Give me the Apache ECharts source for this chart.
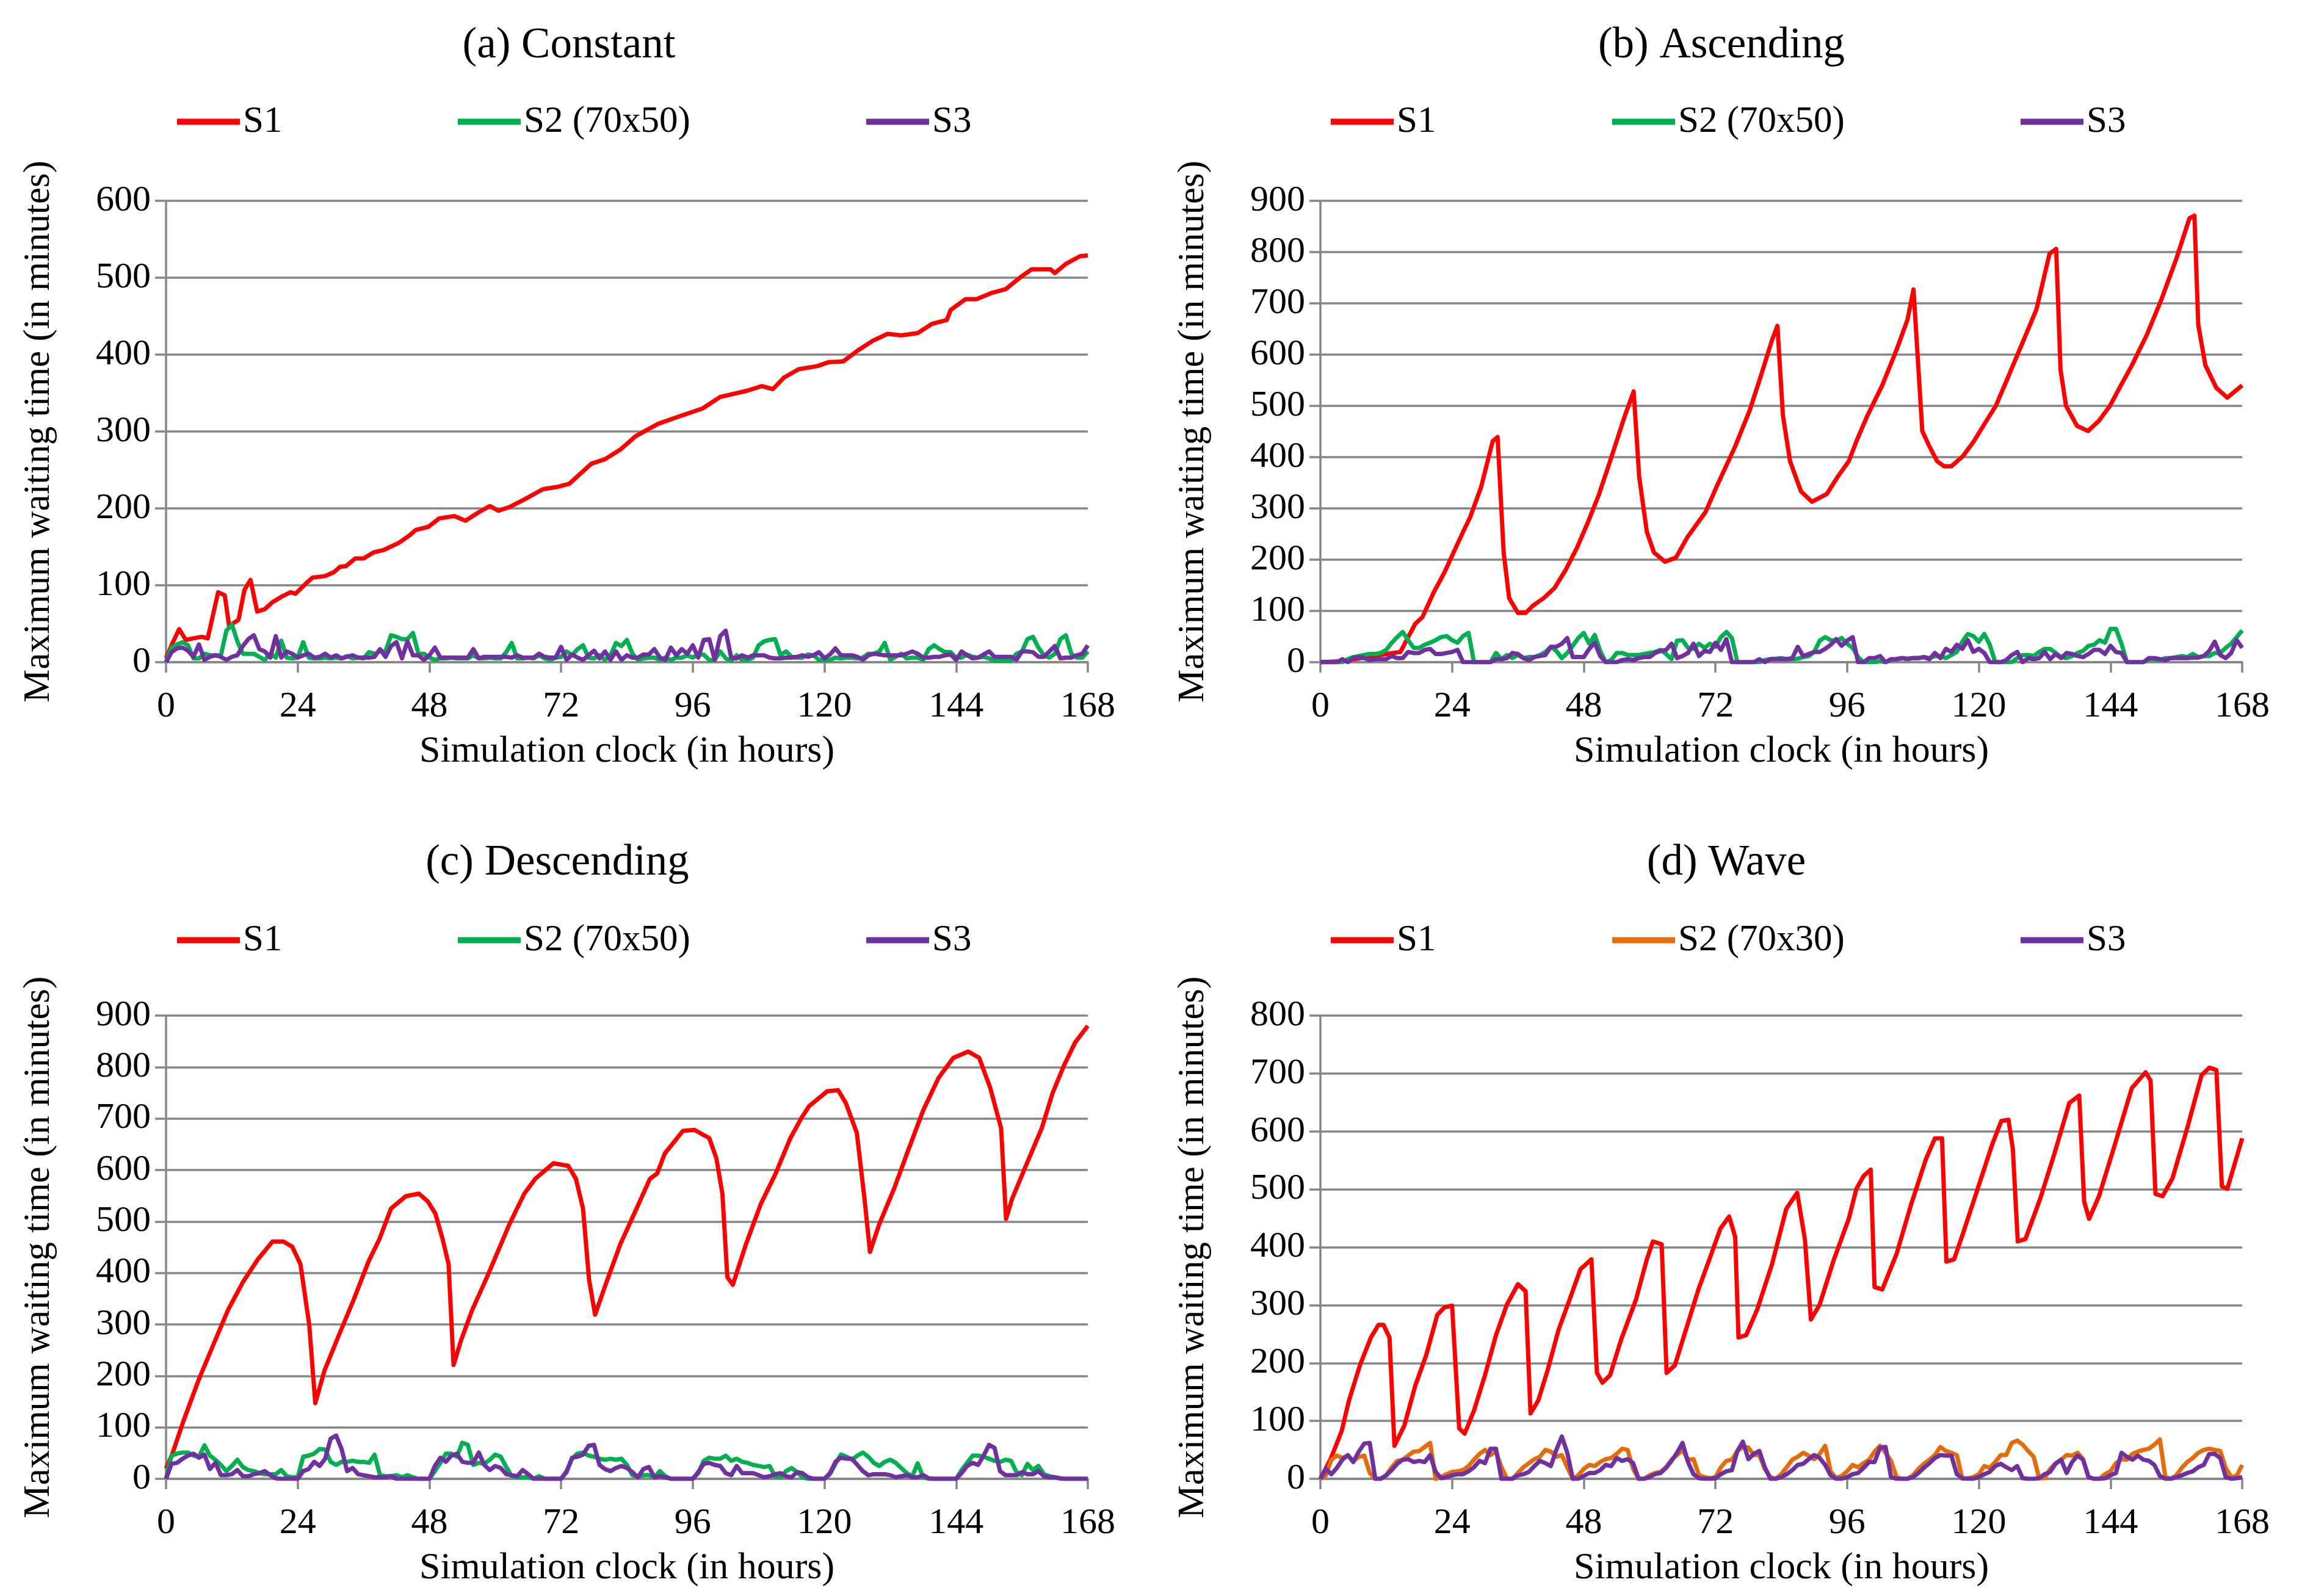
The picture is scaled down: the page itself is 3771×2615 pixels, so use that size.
<!DOCTYPE html>
<html>
<head>
<meta charset="utf-8">
<title>Maximum waiting time</title>
<script src="https://cdn.jsdelivr.net/npm/echarts@6/dist/echarts.min.js"></script>
<style>
  html, body { margin: 0; padding: 0; background: #fff; }
  #chart { width: 3771px; height: 2615px; }
</style>
</head>
<body>
<div id="chart"></div>
<script>
// ---- data ----
var xTicks = [0, 24, 48, 72, 96, 120, 144, 168];

// S1 is given as [hour, minutes] pairs (its turning points), S2/S3 hourly from 0 to 168
var constS1 = [[0,5],[1,22],[2.4,43],[3.6,29],[5,31],[6.5,33],[7.6,31],[9.5,91],[10.7,87],[11.5,47],[13.2,55],[14.3,94],[15.4,107],[16.6,66],[18,69],[19.4,78],[21,85],[22.7,91],[23.6,89],[25.6,103],[26.7,110],[29,112],[30.6,117],[31.7,124],[32.8,125],[34.5,135],[36,135],[37.9,143],[39.7,146],[42.4,155],[44.4,165],[45.5,172],[47.8,176],[49.8,187],[52.5,190],[54.6,184],[57,195],[59,203],[60.6,197],[62.7,202],[65.4,212],[68.7,225],[71.4,228],[73.5,232],[77.5,258],[80,264],[82.9,277],[85.6,294],[89.7,310],[93.7,320],[97.8,330],[101,345],[105.9,353],[108.6,359],[110.6,355],[112.6,370],[115.3,381],[118.7,385],[120.7,390],[123.4,391],[126,405],[128.8,418],[131.5,427],[134,425],[137,428],[139.6,440],[142.3,445],[143,458],[145.7,472],[147.7,472],[150.4,480],[153,485],[155.8,501],[157.8,511],[161.2,511],[162,506],[164,518],[166.6,528],[168,529]];
var constS2 = [0,19,23,26,22,5,5,11,9,9,9, 41,49,27,11,11,11,7,3,11,6, 28,6,5,6,26,6,5,5,6,5, 6,5,8,5,6,5,13,11,14,14, 35,33,30,30,38,11,11,6,3,5, 5,6,5,5,5,9,5,5,6,5, 5,13,25,5,5,6,5,9,5,3, 6,7,14,9,17,22,6,5,9,3, 9,25,21,29,11,3,5,6,6,3, 6,3,6,6,9,6,10,10,3,3, 14,5,2,9,3,3,6,22,27,29, 30,9,14,7,6,6,10,9,3,3, 3,6,5,6,6,5,6,11,11,14, 25,3,7,11,5,6,6,3,17,22, 17,13,13,6,6,10,7,6,7,5, 2,2,2,2,11,14,30,33,19,9, 6,11,30,35,11,6,6,14];
var constS3 = [0,13,18,19,15,7,23,3,7,9,7, 3,7,9,21,30,35,17,14,6,34, 6,14,11,6,9,11,6,7,11,6, 9,5,7,9,6,6,6,7,17,7, 21,26,5,27,9,9,3,9,19,6, 6,6,6,6,6,17,5,7,7,7, 7,7,6,9,6,6,6,11,7,6, 6,20,3,10,6,3,9,15,5,14, 3,14,3,9,6,6,10,10,17,6, 3,19,9,17,11,22,6,29,30,3, 34,41,6,5,9,6,9,9,9,6, 5,5,6,6,7,9,7,9,13,5, 10,18,9,9,9,7,3,9,11,10, 9,9,9,9,11,14,11,6,6,7, 7,9,10,3,14,9,5,6,10,14, 7,7,7,7,3,14,14,13,7,7, 14,21,5,6,6,9,11,22];

var ascS1 = [[0,0],[4,2],[8.6,10],[12.6,17],[14.6,20],[15.7,43],[17.3,75],[18.6,88],[20.6,135],[22.6,175],[24.7,224],[26,254],[27.3,283],[29.3,342],[31.4,431],[32.3,439],[33.4,214],[34.4,125],[36,96],[37.4,96],[38.7,110],[40.7,125],[42.7,145],[44.7,180],[46.8,224],[48.8,274],[50.8,328],[52.8,392],[55.5,481],[57.1,528],[58.1,362],[59.5,254],[60.8,214],[62.8,196],[64.8,204],[66.9,244],[70.2,293],[72.2,342],[75.6,421],[78.2,490],[80.3,559],[82.3,628],[83.3,656],[84.3,481],[85.6,392],[87.6,333],[89.6,313],[92.3,328],[94.3,362],[96.3,392],[97.7,431],[99.7,481],[102.4,540],[105,609],[107,668],[108.1,727],[109.7,451],[111,421],[112.4,392],[113.7,382],[115,382],[117.1,402],[119.1,431],[121.1,466],[123.1,500],[125.1,550],[127.8,619],[130.5,688],[132.9,797],[134.1,806],[134.9,570],[135.9,500],[137.9,461],[139.9,451],[141.9,471],[143.9,500],[145.9,540],[147.9,579],[150.6,638],[153.3,708],[156,787],[158.4,866],[159.3,871],[160,658],[161.3,579],[163.3,535],[165.3,516],[168,540]];
var ascS2 = [0,0,0,0,0,6,10,12,14,16,16, 18,24,38,49,59,43,28,28,34,38, 43,49,51,43,38,51,57,0,0,0, 0,18,6,14,8,14,8,10,10,14, 20,30,22,8,18,32,47,57,36,53, 22,0,4,18,18,14,14,14,16,18, 20,24,16,6,42,43,28,26,36,28, 36,30,49,59,47,0,0,0,0,0, 4,6,7,8,6,6,7,10,12,20, 42,49,43,42,47,36,28,10,0,0, 0,2,0,4,6,8,6,8,8,10, 8,12,12,8,14,20,40,55,51,40, 55,34,0,0,0,0,8,14,14,12, 20,26,26,18,10,8,12,18,22,32, 34,43,38,65,65,36,0,0,0,0, 6,6,4,8,8,10,12,10,16,10, 12,12,18,18,28,36,49,62];
var ascS3 = [0,0,0,0,6,0,8,10,8,4,6, 6,6,12,8,8,20,18,18,24,26, 16,16,18,20,24,0,0,0,0,0, 0,6,6,8,18,16,8,4,10,12, 14,30,30,36,47,10,10,10,26,38, 12,0,0,0,4,6,4,8,10,10, 18,22,24,36,8,12,18,36,12,22, 20,38,24,45,0,0,0,0,0,6, 0,6,6,6,6,8,30,12,16,20, 20,26,34,45,32,42,49,0,0,8, 8,12,0,6,6,8,7,8,8,10, 6,18,8,26,20,34,26,43,20,26, 18,0,0,0,4,14,20,0,8,6, 8,20,6,16,8,18,16,12,10,16, 24,24,16,32,20,18,0,0,0,0, 8,8,6,4,8,8,8,8,9,9, 12,22,40,14,8,18,43,28];

var descS1 = [[0,20],[1.1,47],[3.2,113],[5.9,191],[8.6,260],[11.3,328],[14,382],[16.7,426],[19.4,461],[21.4,461],[23,451],[24.5,417],[26.1,299],[27.2,147],[28.9,211],[31.5,279],[34.2,348],[36.9,422],[38.9,466],[41,525],[43.7,549],[46.1,554],[47.7,539],[49.1,515],[50.4,466],[51.5,417],[52.4,221],[53.8,270],[55.8,328],[58.5,392],[62.6,495],[65.3,554],[67.3,583],[70.6,613],[73.3,608],[74.7,583],[76,525],[77.1,387],[78.2,319],[80.1,377],[82.8,456],[85.5,519],[88.2,583],[89.5,593],[90.9,632],[94.2,676],[96.3,678],[99,662],[100.3,623],[101.4,554],[102.3,392],[103.3,377],[105.7,456],[108.4,534],[111.1,593],[113.8,662],[115.8,701],[117.2,724],[120.5,753],[122.5,755],[123.9,730],[125.9,672],[127.3,544],[128.3,441],[130,495],[132.7,564],[135.4,642],[138,716],[140.8,779],[143.5,818],[146.2,830],[148.2,818],[150.2,760],[152.2,681],[153.1,505],[154.2,544],[156.9,613],[159.6,681],[161.6,750],[163.7,804],[165.7,848],[168,880]];
var descS2 = [0,45,49,51,51,45,43,65,45,37,27, 15,25,37,23,17,15,11,9,9,9, 17,5,3,3,43,45,49,58,57,33, 27,33,33,35,33,33,31,47,7,5, 5,7,3,7,3,0,0,0,15,31, 49,49,43,70,66,27,31,29,37,47, 43,23,5,3,3,3,0,5,0,0, 0,0,15,39,49,51,45,43,39,37, 39,37,39,27,7,3,7,7,3,15, 5,0,0,0,0,0,11,35,41,39, 39,45,35,39,33,31,27,25,23,25, 5,3,15,21,13,3,0,0,0,0, 9,29,47,43,37,45,51,43,31,25, 33,37,31,21,11,5,30,3,0,0, 0,0,0,0,17,31,45,45,43,39, 35,33,37,35,13,7,29,17,25,9, 5,3,0,0,0,0,0,0];
var descS3 = [0,29,31,39,45,49,41,47,19,31,7, 7,9,17,5,5,9,11,15,7,1, 0,0,0,0,15,19,33,25,39,78, 84,58,15,21,9,7,5,3,3,3, 5,0,0,0,0,0,0,0,25,41, 33,45,49,33,31,31,51,27,17,25, 21,9,7,5,17,9,0,0,0,0, 0,0,13,41,43,47,64,66,27,19, 15,21,25,21,13,3,19,23,3,5, 3,0,0,0,0,0,13,29,31,27, 25,11,7,25,11,11,11,7,3,5, 9,11,5,3,13,11,3,0,0,0, 11,33,41,39,39,27,15,7,9,9, 9,7,3,5,7,3,3,7,1,0, 0,0,0,0,11,25,31,27,45,66, 60,15,7,7,7,13,9,9,15,5, 3,3,1,0,0,0,0,0];

var waveS1 = [[0,0],[1.9,35],[3.9,83],[5.2,135],[7.2,196],[9.2,244],[10.6,266],[11.5,266],[12.6,244],[13.5,57],[15.3,92],[17.3,161],[19.3,214],[21.3,283],[22.6,296],[24,299],[25.3,87],[26.3,78],[28,118],[30,179],[32,248],[34,301],[36,336],[37.4,324],[38.3,113],[39.7,135],[41.4,187],[43.4,257],[45.4,309],[47.4,362],[49.4,379],[50.4,183],[51.4,166],[52.8,179],[54.8,240],[57.5,309],[59.5,379],[60.6,410],[62.2,405],[63.1,183],[64.6,196],[66.9,266],[68.9,327],[70.9,379],[72.9,432],[74.5,453],[75.6,418],[76.2,244],[77.6,248],[79.6,292],[82.3,370],[84.9,466],[86.9,494],[88.3,414],[89.4,275],[91,301],[93.6,379],[96.3,449],[97.7,501],[99,523],[100.3,534],[101,331],[102.4,327],[105,388],[107.7,475],[110.4,553],[112,588],[113.3,588],[114.1,375],[115.5,379],[117.1,423],[119.8,501],[122.5,579],[124.1,618],[125.4,620],[126.2,570],[127.1,410],[128.5,414],[131.2,484],[133.8,562],[136.5,649],[138.3,662],[139.2,479],[140.1,449],[141.9,488],[144.6,571],[147.9,675],[150.4,702],[151.3,688],[152.2,492],[153.5,488],[155.3,519],[158,606],[160.6,697],[162,710],[163.3,706],[164.3,505],[165.3,501],[168,588]];
var waveS2 = [0,6,33,40,36,40,31,38,40,10,0, 0,6,20,31,33,40,47,48,55,62, 0,3,8,12,13,15,22,33,43,50, 41,47,20,0,0,10,20,27,34,38, 50,47,38,41,20,0,6,17,24,22, 29,34,36,43,52,50,17,0,0,6, 10,12,20,33,41,50,33,34,6,3, 1,3,20,31,33,48,55,54,41,41, 17,3,0,8,20,33,38,45,40,34, 43,57,13,1,5,13,24,20,27,33, 47,57,45,31,3,0,0,6,17,26, 33,41,55,48,45,41,0,1,3,8, 22,19,29,41,41,62,66,59,48,38, 1,1,17,27,33,41,40,45,34,3, 0,0,8,13,27,34,33,43,47,50, 52,59,68,3,0,6,19,29,36,45, 50,52,50,48,19,3,5,24];
var waveS3 = [0,17,8,19,33,41,29,47,61,62,0, 0,6,15,26,33,34,29,31,29,41, 12,1,3,6,8,8,13,20,31,27, 52,52,0,0,0,6,8,12,22,31, 27,22,50,73,45,0,0,5,10,10, 15,24,22,36,31,34,27,0,0,3, 8,10,19,31,45,62,29,8,1,0, 0,1,8,13,15,48,64,34,43,48, 20,0,0,3,8,15,24,26,34,41, 36,24,6,0,0,3,8,10,19,29, 29,54,55,3,0,0,0,3,10,19, 27,36,41,40,40,8,1,0,0,3, 8,12,22,26,20,15,22,1,0,0, 1,8,12,26,33,10,29,40,33,3, 0,0,1,6,10,45,38,33,40,33, 31,24,5,0,0,3,6,10,13,20, 24,43,43,36,3,0,1,3];

var titles = ['(a) Constant', '(b) Ascending', '(c) Descending', '(d) Wave'];
var yMax = [600, 900, 900, 800];
var s2Names = ['S2 (70x50)', 'S2 (70x50)', 'S2 (70x50)', 'S2 (70x30)'];
var xName = 'Simulation clock (in hours)';
var yName = 'Maximum waiting time (in minutes)';

// ---- layout / styles ----
var FONT = '"Liberation Serif", "Times New Roman", serif';
var RED = '#FF0000', GREEN = '#00B050', PURPLE = '#7030A0', ORANGE = '#E46C0A';
var GRIDC = '#868686';

var panels = [
    { s1: constS1, s2: constS2, s3: constS3, s2c: GREEN,  left: 272,  top: 329,  cx: 932,  ty: 40,   ly: 199,  lx: [290, 750, 1419] },
    { s1: ascS1,   s2: ascS2,   s3: ascS3,   s2c: GREEN,  left: 2163, top: 329,  cx: 2820, ty: 40,   ly: 199,  lx: [2180, 2641, 3310] },
    { s1: descS1,  s2: descS2,  s3: descS3,  s2c: GREEN,  left: 272,  top: 1664, cx: 913,  ty: 1379, ly: 1540, lx: [290, 750, 1419] },
    { s1: waveS1,  s2: waveS2,  s3: waveS3,  s2c: ORANGE, left: 2163, top: 1664, cx: 2828, ty: 1379, ly: 1540, lx: [2180, 2641, 3310] }
];

function hourly(arr) {
    return arr.map(function(v, i) { return [i, v]; });
}

var option = {
    backgroundColor: '#fff',
    animation: false,
    title: [], legend: [], grid: [], xAxis: [], yAxis: [], series: []
};

for (var p = 0; p < panels.length; p++) {
    var P = panels[p];
    option.title.push({
        text: titles[p], left: P.cx, top: P.ty, textAlign: 'center', padding: 0,
        textStyle: { fontFamily: FONT, fontSize: 71, fontWeight: 'normal', color: '#000', lineHeight: 71 }
    });
    option.grid.push({ left: P.left, top: P.top, width: 1510, height: p < 2 ? 756 : 759, containLabel: false });
    option.xAxis.push({
        type: 'value', gridIndex: p, min: 0, max: 168, interval: 24,
        name: xName, nameLocation: 'middle', nameGap: 116,
        nameTextStyle: { fontFamily: FONT, fontSize: 62, color: '#000' },
        axisLine: { show: true, lineStyle: { color: GRIDC, width: 3.5 } },
        axisTick: { show: true, length: 17, lineStyle: { color: GRIDC, width: 3.5 } },
        axisLabel: { fontFamily: FONT, fontSize: 60, color: '#000', margin: 43 },
        splitLine: { show: false }
    });
    option.yAxis.push({
        type: 'value', gridIndex: p, min: 0, max: yMax[p], interval: 100,
        name: yName, nameLocation: 'middle', nameGap: 178,
        nameTextStyle: { fontFamily: FONT, fontSize: 61, color: '#000' },
        axisLine: { show: true, lineStyle: { color: GRIDC, width: 3.5 } },
        axisTick: { show: true, length: 18, lineStyle: { color: GRIDC, width: 3.5 } },
        axisLabel: { fontFamily: FONT, fontSize: 60, color: '#000', margin: 25 },
        splitLine: { show: true, lineStyle: { color: GRIDC, width: 3.5 } }
    });
    var names = ['S1', s2Names[p], 'S3'];
    var colors = [RED, P.s2c, PURPLE];
    var datas = [P.s1, hourly(P.s2), hourly(P.s3)];
    for (var k = 0; k < 3; k++) {
        option.series.push({
            id: 'p' + p + 's' + k, name: names[k], type: 'line', xAxisIndex: p, yAxisIndex: p,
            data: datas[k], symbol: 'none', smooth: false,
            lineStyle: { color: colors[k], width: 7, join: 'round' },
            itemStyle: { color: colors[k] }
        });
        option.legend.push({
            data: [names[k]], left: P.lx[k], top: P.ly - 30, padding: 0,
            icon: 'rect', itemWidth: 103, itemHeight: 10, selectedMode: false,
            textStyle: { fontFamily: FONT, fontSize: 61, color: '#000', lineHeight: 60 }
        });
    }
}

var chart = echarts.init(document.getElementById('chart'));
chart.setOption(option);
</script>
</body>
</html>
